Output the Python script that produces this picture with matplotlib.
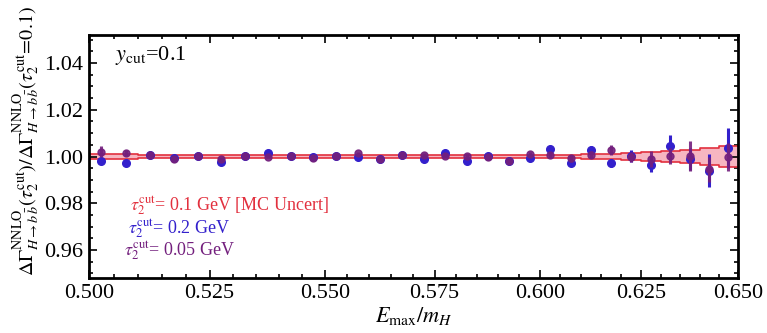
"""
Ratio of NNLO H -> b bbar corrections for different tau2 cuts (y_cut = 0.1)
"""
import numpy as np
import matplotlib
matplotlib.use("Agg")
import matplotlib.pyplot as plt
from matplotlib.ticker import FixedLocator, FormatStrFormatter

# ---------------------------------------------------------------- data ----
bin_edges = [0.500, 0.505, 0.510, 0.515, 0.520, 0.525, 0.530, 0.535, 0.540,
             0.545, 0.550, 0.555, 0.560, 0.565, 0.570, 0.575, 0.580, 0.585,
             0.590, 0.595, 0.600, 0.605, 0.610, 0.615, 0.620, 0.625, 0.630,
             0.635, 0.640, 0.645, 0.650]
x_centers = [0.5025, 0.5075, 0.5125, 0.5175, 0.5225, 0.5275, 0.5325, 0.5375,
             0.5425, 0.5475, 0.5525, 0.5575, 0.5625, 0.5675, 0.5725, 0.5775,
             0.5825, 0.5875, 0.5925, 0.5975, 0.6025, 0.6075, 0.6125, 0.6175,
             0.6225, 0.6275, 0.6325, 0.6375, 0.6425, 0.6475]

# tau2cut = 0.1 GeV, MC uncertainty band (half width per bin)
band_center = 1.0
band_half = [0.0012, 0.0012, 0.0005, 0.0005, 0.0005, 0.0005, 0.0005, 0.0005,
             0.0005, 0.0005, 0.0005, 0.0005, 0.0005, 0.0005, 0.0005, 0.0005,
             0.0005, 0.0005, 0.0005, 0.0006, 0.0007, 0.0008, 0.0009, 0.0011,
             0.0014, 0.0018, 0.0023, 0.0029, 0.0037, 0.0045]

# tau2cut = 0.2 GeV
blue_y = [0.9979, 0.9972, 1.0008, 0.9993, 1.0004, 0.9976, 1.0004, 1.0017,
          1.0003, 0.9996, 1.0003, 0.9996, 0.9990, 1.0007, 0.9990, 1.0017,
          0.9979, 1.0004, 0.9980, 0.9993, 1.0032, 0.9972, 1.0029, 0.9974,
          1.0002, 0.9965, 1.0046, 0.9989, 0.9940, 1.0036]
blue_err = [0.0008, 0.0008, 0.0004, 0.0004, 0.0004, 0.0004, 0.0004, 0.0004,
            0.0004, 0.0004, 0.0004, 0.0004, 0.0005, 0.0005, 0.0005, 0.0005,
            0.0005, 0.0006, 0.0006, 0.0008, 0.0008, 0.0012, 0.0014, 0.0017,
            0.0025, 0.0030, 0.0044, 0.0048, 0.0072, 0.0085]

# tau2cut = 0.05 GeV
purple_y = [1.0021, 1.0015, 1.0006, 0.9991, 1.0003, 0.9990, 1.0003, 1.0000,
            1.0001, 0.9995, 1.0002, 1.0013, 0.9991, 1.0005, 1.0007, 1.0004,
            1.0004, 0.9999, 0.9982, 1.0010, 1.0007, 0.9993, 1.0007, 1.0027,
            0.9998, 0.9989, 1.0002, 1.0002, 0.9945, 0.9998]
purple_err = [0.0025, 0.0012, 0.0005, 0.0005, 0.0005, 0.0005, 0.0005, 0.0005,
              0.0005, 0.0005, 0.0005, 0.0007, 0.0005, 0.0007, 0.0008, 0.0008,
              0.0008, 0.0008, 0.0008, 0.0010, 0.0012, 0.0015, 0.0015, 0.0022,
              0.0020, 0.0035, 0.0036, 0.0066, 0.0055, 0.0060]

x_ticks = [0.500, 0.525, 0.550, 0.575, 0.600, 0.625, 0.650]
y_ticks = [0.96, 0.98, 1.00, 1.02, 1.04]

# -------------------------------------------------------------- styling ---
red = "#e2303e"
pink = "#f6b6c1"
blue = "#3320cc"
purple = "#731f7d"

plt.rcParams['font.family'] = ['Liberation Serif', 'DejaVu Serif']
plt.rcParams['mathtext.fontset'] = 'stix'

fig = plt.figure(figsize=(7.67, 3.33), dpi=100)
ax = fig.add_axes([0.116, 0.165, 0.846, 0.730])

# band (step histogram style)
hi = [band_center + h for h in band_half]
lo = [band_center - h for h in band_half]
hi_s = hi + [hi[-1]]
lo_s = lo + [lo[-1]]
ax.fill_between(bin_edges, lo_s, hi_s, step='post', color=pink, lw=0, zorder=1)
ax.step(bin_edges, hi_s, where='post', color=red, lw=1.2, zorder=2)
ax.step(bin_edges, lo_s, where='post', color=red, lw=1.2, zorder=2)

ax.errorbar(x_centers, blue_y, yerr=blue_err, fmt='o', color=blue, ms=5.5,
            elinewidth=2.2, capsize=0, zorder=3)
ax.errorbar(x_centers, purple_y, yerr=purple_err, fmt='o', color=purple,
            ms=5.0, elinewidth=2.2, capsize=0, alpha=0.9, zorder=4)

ax.set_xscale('log')
ax.set_xlim(0.5, 0.65)
ax.set_ylim(0.948, 1.052)

ax.xaxis.set_major_locator(FixedLocator(x_ticks))
ax.xaxis.set_minor_locator(FixedLocator(bin_edges))
ax.xaxis.set_major_formatter(FormatStrFormatter('%.3f'))
ax.xaxis.set_minor_formatter(plt.NullFormatter())
ax.yaxis.set_major_locator(FixedLocator(y_ticks))
ax.yaxis.set_minor_locator(FixedLocator(np.arange(0.950, 1.0501, 0.005)))
ax.yaxis.set_major_formatter(FormatStrFormatter('%.2f'))

ax.tick_params(which='both', direction='in', top=True, right=True,
               labelsize=16, width=1.2, pad=4)
ax.tick_params(which='major', length=6)
ax.tick_params(which='minor', length=3)
for sp in ax.spines.values():
    sp.set_linewidth(2)

ax.set_xlabel(r'$E_{\rm max}/m_H$', fontsize=16, labelpad=2)
ax.set_ylabel(r'$\Delta\Gamma^{\rm NNLO}_{H\to b\,\bar{b}}(\tau_2^{\rm cut})'
              r'/\Delta\Gamma^{\rm NNLO}_{H\to b\,\bar{b}}(\tau_2^{\rm cut}\!=\!0.1)$',
              fontsize=14.5)
ax.yaxis.set_label_coords(-0.072, 0.565)

ax.text(0.04, 0.915, r'$y_{\rm cut}$=0.1', transform=ax.transAxes,
        fontsize=16, va='center', ha='left')
ax.text(0.063, 0.30, r'$\tau_2^{\rm cut}$= 0.1 GeV [MC Uncert]',
        transform=ax.transAxes, fontsize=13, color=red, va='center')
ax.text(0.060, 0.205, r'$\tau_2^{\rm cut}$= 0.2 GeV',
        transform=ax.transAxes, fontsize=13, color=blue, va='center')
ax.text(0.054, 0.115, r'$\tau_2^{\rm cut}$= 0.05 GeV',
        transform=ax.transAxes, fontsize=13, color=purple, va='center')

fig.savefig('out.png', dpi=100)
